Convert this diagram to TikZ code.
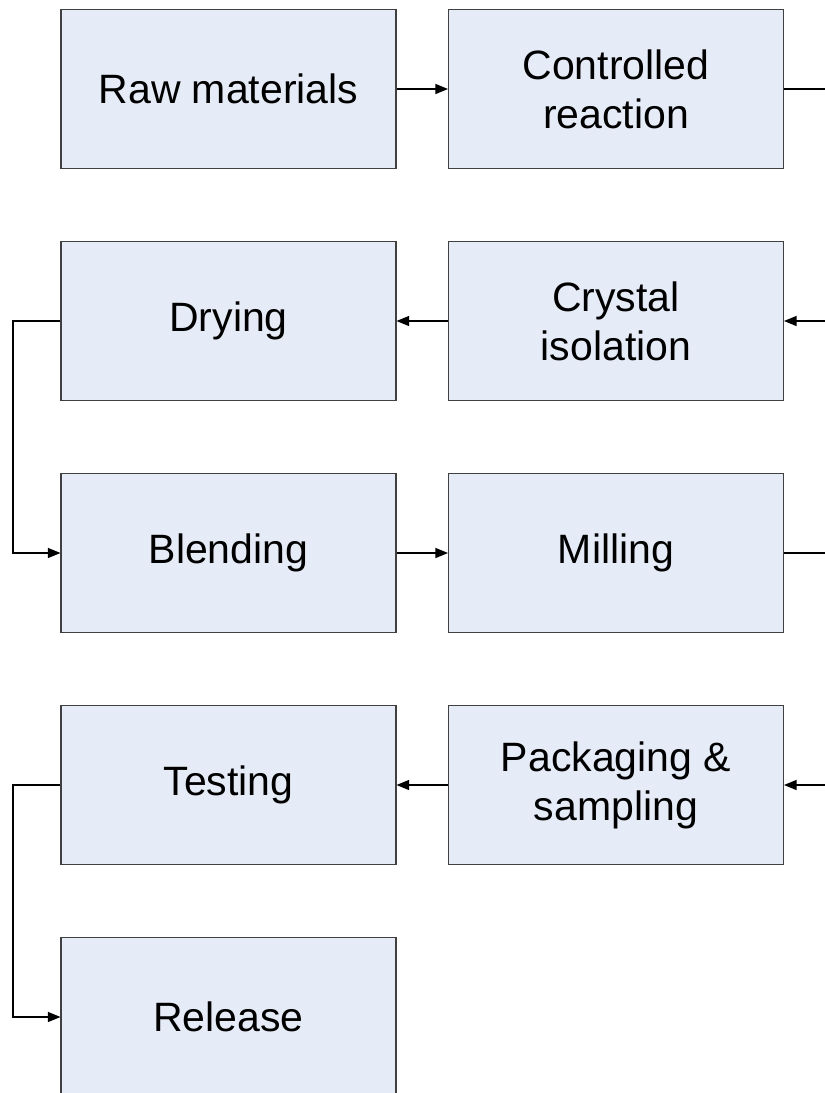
\documentclass[tikz,border=0pt]{standalone}
\usepackage{fontspec}
\setmainfont{Liberation Sans}
\usetikzlibrary{arrows.meta}
\definecolor{boxfill}{HTML}{E6ECF7}
\definecolor{boxline}{HTML}{404040}
\tikzset{
  stepbox/.style={draw=boxline, fill=boxfill, line width=1.1pt, minimum width=335pt, minimum height=158.5pt,
    inner sep=0pt, align=center, font=\fontsize{41}{49}\selectfont, text=black},
  flow/.style={draw=black, line width=1.2pt, -{Triangle[length=12.5pt,width=10pt]}},
  flowplain/.style={draw=black, line width=1.2pt}
}
\begin{document}
\begin{tikzpicture}[x=1pt,y=-1pt]
\useasboundingbox (0,0) rectangle (825,1093);
\clip (0,0) rectangle (825,1093);
\node[stepbox] (raw) at (228.5,89) {Raw materials};
\node[stepbox] (cr) at (616,89) {Controlled\\reaction};
\node[stepbox] (dry) at (228.5,321) {Drying};
\node[stepbox] (ci) at (616,321) {Crystal\\isolation};
\node[stepbox] (bl) at (228.5,553) {Blending};
\node[stepbox] (mi) at (616,553) {Milling};
\node[stepbox] (te) at (228.5,785) {Testing};
\node[stepbox] (pk) at (616,785) {Packaging \&\\sampling};
\node[stepbox] (re) at (228.5,1017) {Release};
\coordinate (rA) at (850,0);
\coordinate (lA) at (13,0);
\draw[flow] (raw) -- (cr);
\draw[flow] (cr.east) -| (rA |- ci.east) -- (ci.east);
\draw[flow] (ci) -- (dry);
\draw[flow] (dry.west) -- (lA |- dry.west) |- (bl.west);
\draw[flow] (bl) -- (mi);
\draw[flow] (mi.east) -| (rA |- pk.east) -- (pk.east);
\draw[flow] (pk) -- (te);
\draw[flow] (te.west) -- (lA |- te.west) |- (re.west);
\end{tikzpicture}
\end{document}
